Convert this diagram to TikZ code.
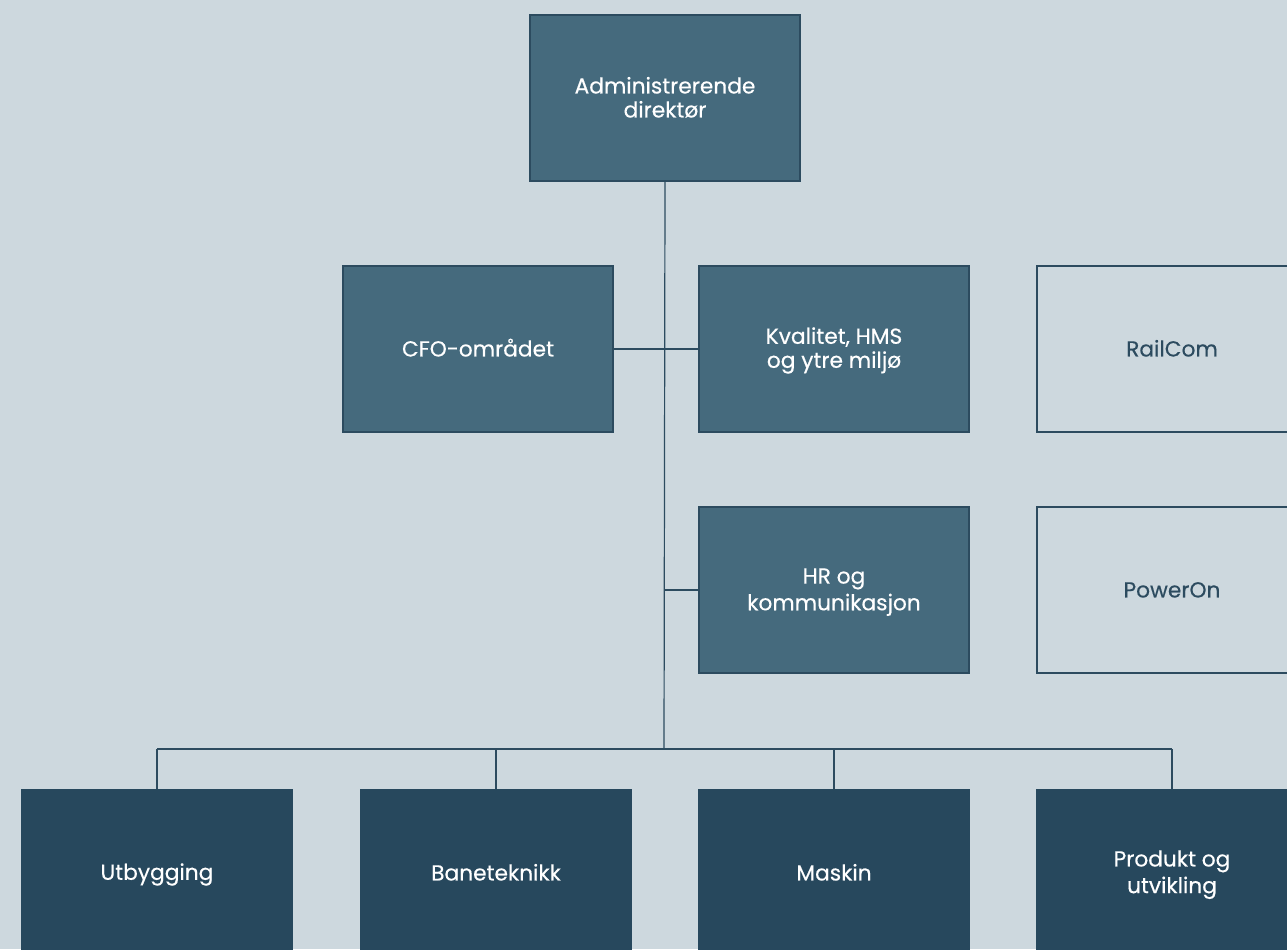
\documentclass[tikz,border=0pt]{standalone}
\usepackage{fontspec}
\setmainfont{Poppins}
\newfontfamily\orgfont{Poppins}[FakeBold=0.35]
\usepackage{tikz}
\usetikzlibrary{positioning,calc}
\definecolor{bgblue}{RGB}{205,216,222}
\definecolor{midblue}{RGB}{69,106,125}
\definecolor{darkblue}{RGB}{39,72,93}
\definecolor{lineblue}{RGB}{44,75,95}
\newcommand{\orgstrut}{\rule[-3.4pt]{0pt}{18pt}}
\tikzset{
	orgbox/.style={draw=lineblue, line width=0.9pt, rectangle, minimum width=202.5pt,
		minimum height=124.5pt, align=center, font=\orgfont\fontsize{16.3}{18}\selectfont},
	midbox/.style={orgbox, fill=midblue, text=white},
	darkbox/.style={orgbox, fill=darkblue, draw=darkblue, text=white},
	openbox/.style={orgbox, text=lineblue},
}
\newcommand{\link}[3][]
{
	% plain org line
	\path [draw=lineblue, line width=0.9pt, #1] (#2) -- (#3);
}
\newcommand{\orgnode}[4][midbox]{
	\node [#1] (#2) at (#3) {\orgstrut#4\orgstrut};
}

\begin{document}
\begin{tikzpicture}[x=0.75pt, y=-0.75pt]
		\fill [bgblue] (0,0) rectangle (1287,949);
		\useasboundingbox (0,0) rectangle (1287,949);
		\orgnode{adm}{665,98}{Administrerende\\direktør}
		\orgnode{cfo}{478,349}{CFO-området}
		\orgnode{kval}{834,349}{Kvalitet, HMS\\og ytre miljø}
		\orgnode[openbox]{rail}{1172,349}{RailCom}
		\orgnode{hr}{834,590}{HR og\\kommunikasjon}
		\orgnode[openbox]{power}{1172,590}{PowerOn}
		\orgnode[darkbox]{utb}{157,873}{Utbygging}
		\orgnode[darkbox]{bane}{496,873}{Baneteknikk}
		\orgnode[darkbox]{mask}{834,873}{Maskin}
		\orgnode[darkbox]{prod}{1172,873}{Produkt og\\utvikling}
		\coordinate (bus) at (664,749);
		%	trunk and side branches
		\link{adm.south}{bus}
		\link{cfo}{kval}
		\link{hr.west}{hr.west -| bus}
		\link{utb.north}{utb.north |- bus}
		\link{utb.north |- bus}{prod.north |- bus}
		\link{bane.north}{bane.north |- bus}
		\link{mask.north}{mask.north |- bus}
		\link{prod.north}{prod.north |- bus}
		\end{tikzpicture}
\end{document}
